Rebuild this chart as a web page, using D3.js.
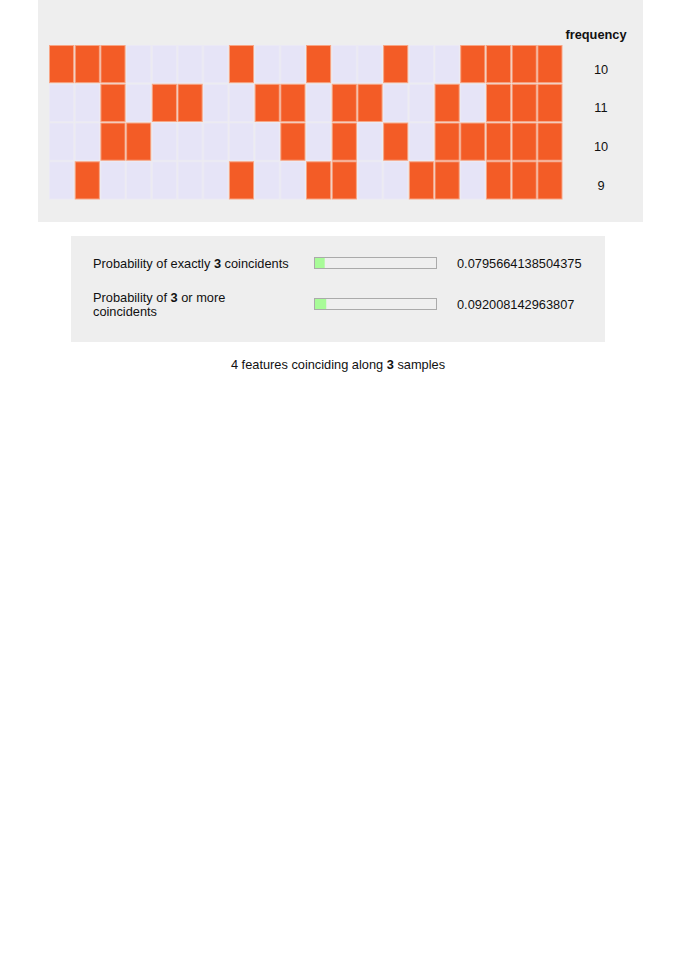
<!doctype html>
<html lang="en">
<head>
<meta charset="utf-8">
<script src="https://cdn.jsdelivr.net/npm/d3@7"></script>
<style>
  body { margin: 0; background: #fff; font-family: "Liberation Sans", Arial, Helvetica, sans-serif; }
  svg text { font-family: "Liberation Sans", Arial, Helvetica, sans-serif; font-size: 12.8px; fill: #111; }
</style>
</head>
<body>
<div id="chart"></div>
<script>
    // occurrence of each feature (rows) over the samples (columns)
    var featureA = [1,1,1,0,0,0,0,1,0,0,1,0,0,1,0,0,1,1,1,1];
    var featureB = [0,0,1,0,1,1,0,0,1,1,0,1,1,0,0,1,0,1,1,1];
    var featureC = [0,0,1,1,0,0,0,0,0,1,0,1,0,1,0,1,1,1,1,1];
    var featureD = [0,1,0,0,0,0,0,1,0,0,1,1,0,0,1,1,0,1,1,1];
    var features = [featureA, featureB, featureC, featureD];

    var coincidents = 3;
    var probLabels = ["Probability of exactly", "Probability of"];
    var probValues = [0.0795664138504375, 0.092008142963807];

    var W = 676, H = 956;
    var svg = d3.select("#chart").append("svg")
        .attr("width", W)
        .attr("height", H);

    // top panel
    svg.append("rect")
        .attr("x", 38).attr("y", 0)
        .attr("width", 605).attr("height", 222)
        .attr("fill", "#eeeeee");

    var nCols = features[0].length;
    var x = d3.scaleBand().domain(d3.range(nCols)).range([49.5, 562]).paddingInner(0.06);
    var y = d3.scaleBand().domain(d3.range(features.length)).range([45.5, 199]).paddingInner(0.04);

    var rows = svg.append("g").selectAll("g")
        .data(features)
        .join("g")
        .attr("transform", function(d, i) { return "translate(0," + y(i) + ")"; });

    rows.selectAll("rect")
        .data(function(d) { return d; })
        .join("rect")
        .attr("x", function(d, j) { return x(j); })
        .attr("width", x.bandwidth())
        .attr("height", y.bandwidth())
        .attr("fill", function(d) { return d ? "#f35c26" : "#e6e4f7"; })
        .attr("stroke", function(d) { return d ? "#f8a585" : "#ebe9f5"; })
        .attr("stroke-width", 1);

    // frequency column
    svg.append("text")
        .attr("x", 596).attr("y", 34)
        .attr("text-anchor", "middle")
        .attr("dominant-baseline", "central")
        .style("font-weight", "bold")
        .text("frequency");

    rows.append("text")
        .attr("x", 601)
        .attr("y", y.bandwidth() / 2 + 5)
        .attr("text-anchor", "middle")
        .attr("dominant-baseline", "central")
        .text(function(d) { return d3.sum(d); });

    // probability panel
    svg.append("rect")
        .attr("x", 71).attr("y", 236)
        .attr("width", 534).attr("height", 106)
        .attr("fill", "#eeeeee");

    var barX = d3.scaleLinear().domain([0, 1]).range([0, 122]);
    var rowY = [263, 304];

    var prob = svg.append("g").selectAll("g")
        .data(probValues)
        .join("g")
        .attr("transform", function(d, i) { return "translate(0," + rowY[i] + ")"; });

    // first label on one line
    var t0 = svg.append("text").attr("x", 93).attr("y", rowY[0]).attr("dominant-baseline", "central");
    t0.append("tspan").text(probLabels[0] + " ");
    t0.append("tspan").style("font-weight", "bold").text(coincidents);
    t0.append("tspan").text(" coincidents");

    // second label wraps
    var t1 = svg.append("text").attr("x", 93).attr("y", rowY[1] - 7).attr("dominant-baseline", "central");
    t1.append("tspan").text(probLabels[1] + " ");
    t1.append("tspan").style("font-weight", "bold").text(coincidents);
    t1.append("tspan").text(" or more");
    svg.append("text").attr("x", 93).attr("y", rowY[1] + 7).attr("dominant-baseline", "central")
        .text("coincidents");

    prob.append("rect")
        .attr("x", 314.5).attr("y", -5.5)
        .attr("width", 122).attr("height", 11)
        .attr("fill", "#efefef")
        .attr("stroke", "#aaaaaa")
        .attr("stroke-width", 1);

    prob.append("rect")
        .attr("x", 315).attr("y", -5)
        .attr("width", function(d) { return barX(d); })
        .attr("height", 10)
        .attr("fill", "#a8fb98");

    prob.append("text")
        .attr("x", 457).attr("y", 0)
        .attr("dominant-baseline", "central")
        .text(function(d) { return d; });

    // caption
    var cap = svg.append("text")
        .attr("x", 338).attr("y", 364)
        .attr("text-anchor", "middle")
        .attr("dominant-baseline", "central");
    cap.append("tspan").text(features.length + " features coinciding along ");
    cap.append("tspan").style("font-weight", "bold").text(coincidents);
    cap.append("tspan").text(" samples");
</script>
</body>
</html>
